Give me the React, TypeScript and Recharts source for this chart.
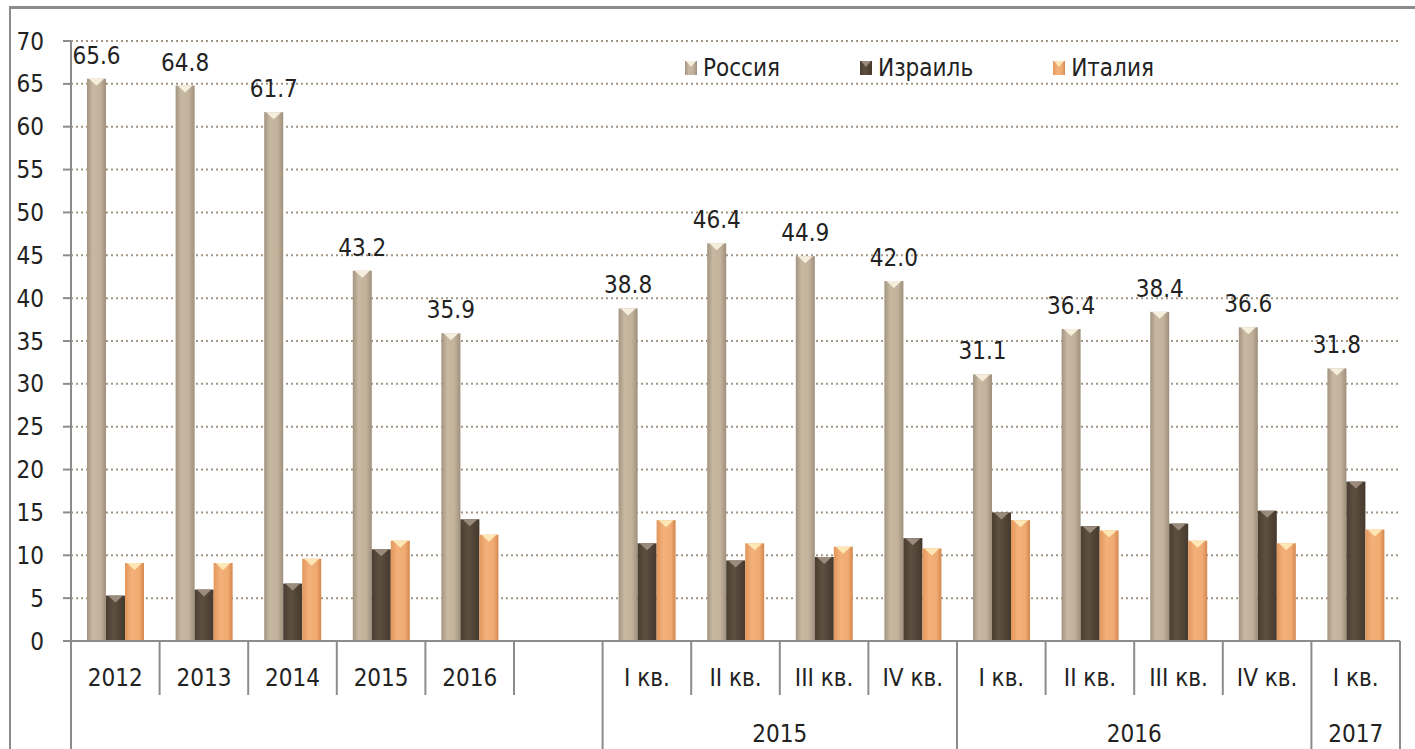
import React from 'react';
import { BarChart, Bar, XAxis, YAxis, CartesianGrid, LabelList } from 'recharts';

const categories = ['2012', '2013', '2014', '2015', '2016', '', 'I кв.', 'II кв.', 'III кв.', 'IV кв.', 'I кв.', 'II кв.', 'III кв.', 'IV кв.', 'I кв.'];
const groups = ['', '', '', '', '', '', '2015', '2015', '2015', '2015', '2016', '2016', '2016', '2016', '2017'];
const russia = [65.6, 64.8, 61.7, 43.2, 35.9, null, 38.8, 46.4, 44.9, 42.0, 31.1, 36.4, 38.4, 36.6, 31.8];
const israel = [5.3, 6.0, 6.7, 10.7, 14.2, null, 11.4, 9.4, 9.8, 12.0, 15.0, 13.4, 13.7, 15.2, 18.6];
const italy = [9.1, 9.1, 9.6, 11.7, 12.4, null, 14.1, 11.4, 11.0, 10.8, 14.1, 12.9, 11.7, 11.4, 13.0];
const yTicks = [0, 5, 10, 15, 20, 25, 30, 35, 40, 45, 50, 55, 60, 65, 70];

const series = [
  { key: 'russia', name: 'Россия', grad: 'gRu', tip: '#f6eedc' },
  { key: 'israel', name: 'Израиль', grad: 'gIl', tip: '#9a8b7c' },
  { key: 'italy', name: 'Италия', grad: 'gIt', tip: '#fde7b4' },
];

const data = categories.map((c, i) => ({
  cat: c,
  russia: russia[i],
  israel: israel[i],
  italy: italy[i],
}));

const W = 1415;
const H = 749;
const Y_W = 71;
const X_H = 108;
const margin = { top: 41, right: 15, left: 0, bottom: 0 };
const band = (W - Y_W - margin.right) / categories.length;
const axisY = H - X_H;
const AXIS = '#8c8c8c';
const FONT = '"Liberation Sans Narrow", "DejaVu Sans Condensed", "Open Sans", sans-serif';
const FS = 24;

const makeShape = (grad: string, tip: string) => (props: any) => {
  const { x, y, width, height } = props;
  if (!height || height <= 0) return null;
  const t = Math.min(7, height);
  return (
    <g>
      <rect x={x} y={y} width={width} height={height} fill={`url(#${grad})`} />
      <path d={`M${x + 2},${y} L${x + width - 2},${y} L${x + width / 2},${y + t} Z`} fill={tip} />
    </g>
  );
};

const XTick = (props: any) => {
  const { x, index } = props;
  const left = x - band / 2;
  const longLeft = index === 0 || groups[index] !== groups[index - 1];
  const last = index === categories.length - 1;
  let groupLabel = null;
  if (groups[index] !== '' && (index === 0 || groups[index] !== groups[index - 1])) {
    let n = 0;
    while (groups[index + n] === groups[index]) n++;
    groupLabel = (
      <text x={left + (n * band) / 2} y={742} textAnchor="middle" fontSize={FS} fill="#222">
        {groups[index]}
      </text>
    );
  }
  return (
    <g>
      <line x1={left} x2={left} y1={axisY} y2={longLeft ? H : 695} stroke={AXIS} strokeWidth={2} />
      {last && <line x1={left + band} x2={left + band} y1={axisY} y2={H} stroke={AXIS} strokeWidth={2} />}
      <text x={x} y={686} textAnchor="middle" fontSize={FS} fill="#222">
        {categories[index]}
      </text>
      {groupLabel}
    </g>
  );
};

const fmt = (v: any) => (v == null ? '' : Number(v).toFixed(1));

export default function App() {
  return (
    <div style={{ position: 'absolute', left: 0, top: 0, width: W, height: H, background: '#fff', fontFamily: FONT, overflow: 'hidden' }}>
      <svg width={0} height={0} style={{ position: 'absolute' }}>
        <defs>
          <linearGradient id="gRu" x1="0" y1="0" x2="1" y2="0">
            <stop offset="0%" stopColor="#a39481" />
            <stop offset="30%" stopColor="#c7b8a2" />
            <stop offset="70%" stopColor="#c2b29c" />
            <stop offset="100%" stopColor="#9e8f7c" />
          </linearGradient>
          <linearGradient id="gIl" x1="0" y1="0" x2="1" y2="0">
            <stop offset="0%" stopColor="#4a3d31" />
            <stop offset="40%" stopColor="#5e4f40" />
            <stop offset="100%" stopColor="#45392e" />
          </linearGradient>
          <linearGradient id="gIt" x1="0" y1="0" x2="1" y2="0">
            <stop offset="0%" stopColor="#e2975c" />
            <stop offset="35%" stopColor="#f3b07a" />
            <stop offset="75%" stopColor="#f0aa72" />
            <stop offset="100%" stopColor="#d3884f" />
          </linearGradient>
        </defs>
      </svg>
      <BarChart width={W} height={H} data={data} margin={margin} barSize={19} barGap={0}>
        <CartesianGrid vertical={false} stroke="#a39584" strokeWidth={2} strokeDasharray="2 3" />
        <YAxis
          domain={[0, 70]}
          ticks={yTicks}
          interval={0}
          width={Y_W}
          axisLine={{ stroke: AXIS, strokeWidth: 2 }}
          tickLine={{ stroke: AXIS, strokeWidth: 2 }}
          tickSize={8}
          tickMargin={19}
          tick={{ fontSize: FS, fill: '#222' }}
        />
        <XAxis
          dataKey="cat"
          interval={0}
          height={X_H}
          axisLine={{ stroke: AXIS, strokeWidth: 2 }}
          tickLine={false}
          tick={<XTick />}
        />
        {series.map((s) => (
          <Bar key={s.key} dataKey={s.key} name={s.name} isAnimationActive={false} shape={makeShape(s.grad, s.tip)}>
            {s.key === 'russia' && (
              <LabelList dataKey="russia" position="top" offset={15} formatter={fmt} style={{ fontSize: FS, fill: '#222' }} />
            )}
          </Bar>
        ))}
      </BarChart>
      <div style={{ position: 'absolute', left: 9, top: 6, right: 0, bottom: 0, borderTop: `3px solid ${AXIS}`, borderLeft: `2px solid ${AXIS}`, pointerEvents: 'none', zIndex: 2 }} />
      <div style={{ position: 'absolute', left: 685, top: 54, display: 'flex', alignItems: 'center', fontSize: FS, color: '#222', zIndex: 3 }}>
        {series.map((s) => (
          <div key={s.key} style={{ display: 'flex', alignItems: 'center', marginRight: 80 }}>
            <svg width={12} height={14} style={{ marginRight: 6 }}>
              <rect x={0} y={0} width={12} height={14} fill={`url(#${s.grad})`} />
              <path d="M1,0 L11,0 L6,6 Z" fill={s.tip} />
            </svg>
            <span>{s.name}</span>
          </div>
        ))}
      </div>
    </div>
  );
}
